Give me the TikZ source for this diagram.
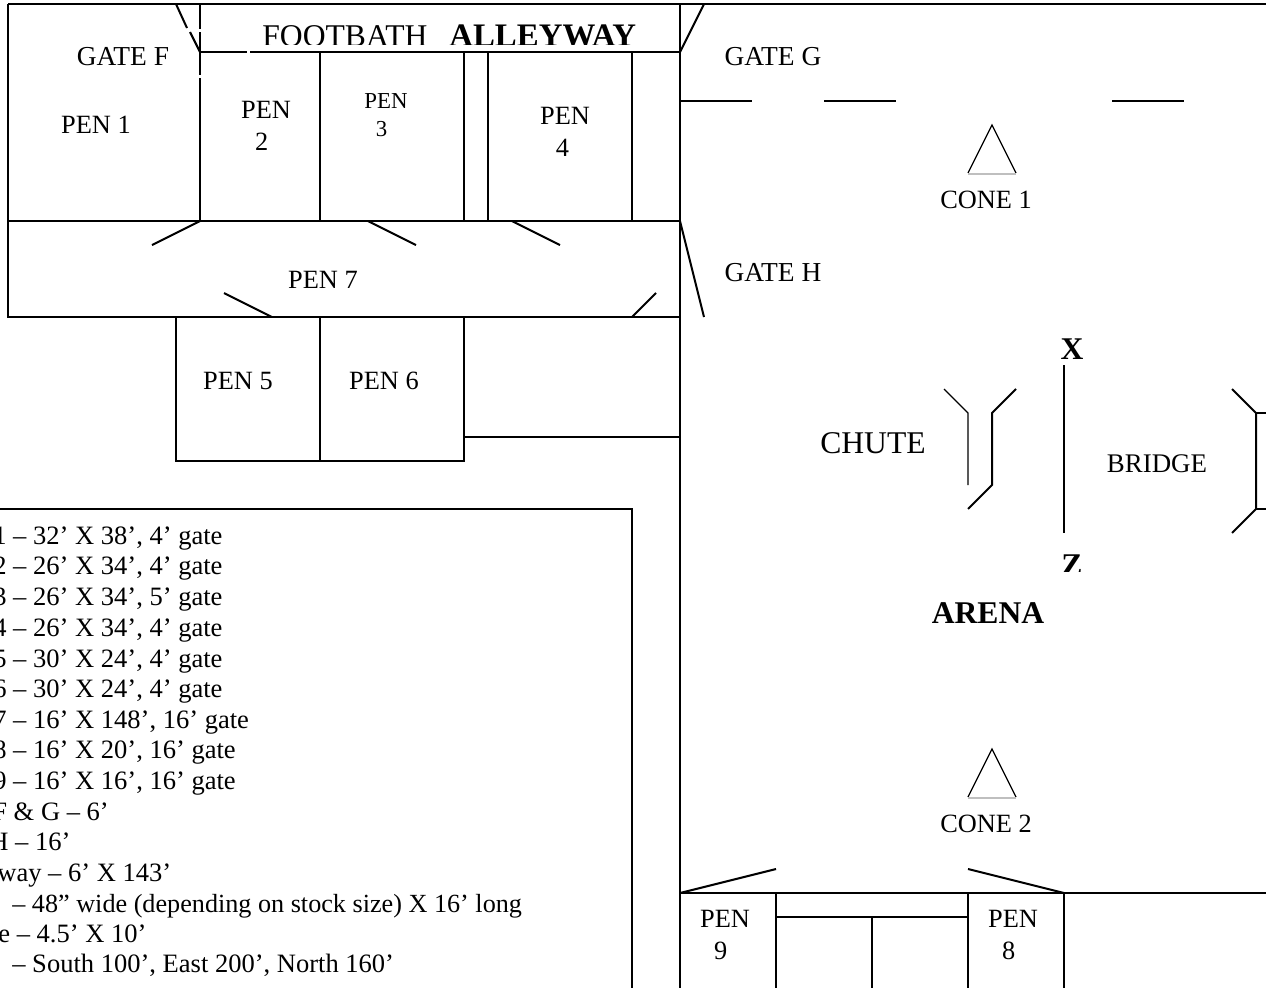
\documentclass[tikz,border=0pt]{standalone}
\usepackage{fontspec}
\setmainfont{Liberation Serif}
\usepackage{tikz}
\tikzset{
  wall/.style={draw, line width=1.15pt},
  thin wall/.style={draw, line width=0.7pt},
  lbl/.style={inner sep=0pt, font=\fontsize{15}{18}\selectfont, align=center},
  gate lbl/.style={inner sep=0pt, font=\fontsize{15.6}{18}\selectfont},
  small lbl/.style={inner sep=0pt, font=\fontsize{13}{16}\selectfont, align=center},
  big lbl/.style={inner sep=0pt, font=\fontsize{18}{20}\selectfont},
  big bold/.style={inner sep=0pt, font=\fontsize{18}{20}\selectfont\bfseries},
  legend/.style={inner sep=0pt, anchor=base west, font=\fontsize{15.1}{18}\selectfont}
}
\begin{document}
\begin{tikzpicture}[x=0.02cm, y=-0.02cm]
\useasboundingbox (0,0) rectangle (1266,988);
\path [wall] (8,4) -- (1266,4);
\path [wall] (8,4) -- (8,317) -- (680,317);
\path [wall] (680,4) -- (680,988);
\path [wall] (200,4) -- (200,29) (200,32) -- (200,75) (200,78) -- (200,221);
\path [wall] (200,52) -- (247,52) (250,52) -- (680,52);
\path [wall] (176,4) -- (187,28) (190,32) -- (200,52);
\path [wall] (680,52) -- (704,4);
\path [wall] (320,52) -- (320,221);
\path [wall] (464,52) -- (464,221);
\path [wall] (488,52) -- (488,221);
\path [wall] (632,52) -- (632,221);
\path [wall] (8,221) -- (680,221);
\path [wall] (152,245) -- (200,221);
\path [wall] (368,221) -- (416,245);
\path [wall] (512,221) -- (560,245);
\path [wall] (224,293) -- (272,317);
\path [wall] (632,317) -- (656,293);
\path [wall] (680,221) -- (704,317);
\path [wall] (176,317) -- (176,461) -- (464,461) -- (464,317);
\path [wall] (320,317) -- (320,461);
\path [wall] (464,437) -- (680,437);
\path [wall] (0,509) -- (632,509) -- (632,988);
\path [wall] (680,101) -- (752,101);
\path [wall] (824,101) -- (896,101);
\path [wall] (1112,101) -- (1184,101);
\path [thin wall] (968,173) -- (992,125) -- (1016,173);
\path [draw, black!25, line width=0.6pt] (968,174) -- (1016,174);
\path [thin wall] (968,797) -- (992,749) -- (1016,797);
\path [draw, black!25, line width=0.6pt] (968,798) -- (1016,798);
\path [thin wall] (944,389) -- (968,413) -- (968,485);
\path [wall] (1016,389) -- (992,413) -- (992,485) -- (968,509);
\path [wall] (1064,365) -- (1064,533);
\path [wall] (1232,389) -- (1256,413) -- (1256,509) -- (1232,533);
\path [wall] (1256,413) -- (1266,413);
\path [wall] (1256,509) -- (1266,509);
\path [wall] (680,893) -- (1266,893);
\path [wall] (680,893) -- (776,869);
\path [wall] (968,869) -- (1064,893);
\path [wall] (776,893) -- (776,988);
\path [wall] (968,893) -- (968,988);
\path [wall] (1064,893) -- (1064,988);
\path [wall] (776,917) -- (968,917);
\path [wall] (872,917) -- (872,988);
\begin{scope}
\clip (240,10) rectangle (660,44);
\node [big lbl, anchor=base west] (footbath) at (262,46) {FOOTBATH};
\node [big bold, anchor=base west, font=\fontsize{18.7}{20}\selectfont\bfseries] (alleyway) at (449,46) {ALLEYWAY};
\end{scope}
\begin{scope}
\clip (1040,540) rectangle (1100,571);
\node [big bold] (z) at (1072,565) {Z};
\end{scope}
\node [gate lbl] (gatef) at (123,56.7) {GATE F};
\node [lbl] (pen1) at (96,125) {PEN 1};
\node [lbl] (pen2) at (266,126) {PEN\\2\hspace*{5pt}};
\node [small lbl] (pen3) at (386,115) {PEN\\3\hspace*{5pt}};
\node [lbl] (pen4) at (565,132) {PEN\\4\hspace*{3pt}};
\node [gate lbl] (gateg) at (773,56.7) {GATE G};
\node [gate lbl] (gateh) at (773,272.7) {GATE H};
\node [lbl] (pen7) at (323,280) {PEN 7};
\node [lbl] (pen5) at (238,381) {PEN 5};
\node [lbl] (pen6) at (384,381) {PEN 6};
\node [lbl] (cone1) at (986,200) {CONE 1};
\node [lbl] (cone2) at (986,824) {CONE 2};
\node [lbl, font=\fontsize{15.3}{18}\selectfont] (bridge) at (1157,464) {BRIDGE};
\node [lbl] (pen9) at (725,935) {PEN\\9\hspace*{5pt}};
\node [lbl] (pen8) at (1013,935) {PEN\\8\hspace*{5pt}};
\node [big lbl] (chute) at (873,443) {CHUTE};
\node [big bold] (x) at (1072,349) {X};
\node [big bold] (arena) at (988,613) {ARENA};
\node [legend] (l1) at (-7,544) {1 – 32’ X 38’, 4’ gate};
\node [legend] (l2) at (-7,574) {2 – 26’ X 34’, 4’ gate};
\node [legend] (l3) at (-7,605) {3 – 26’ X 34’, 5’ gate};
\node [legend] (l4) at (-7,636) {4 – 26’ X 34’, 4’ gate};
\node [legend] (l5) at (-7,667) {5 – 30’ X 24’, 4’ gate};
\node [legend] (l6) at (-7,697) {6 – 30’ X 24’, 4’ gate};
\node [legend] (l7) at (-7,728) {7 – 16’ X 148’, 16’ gate};
\node [legend] (l8) at (-7,758) {8 – 16’ X 20’, 16’ gate};
\node [legend] (l9) at (-7,789) {9 – 16’ X 16’, 16’ gate};
\node [legend] (l10) at (-8,820) {F \& G – 6’};
\node [legend] (l11) at (-11,850) {H – 16’};
\node [legend] (l12) at (-3,881) {way – 6’ X 143’};
\node [legend, font=\fontsize{14.9}{18}\selectfont] (l13) at (12,912) {– 48” wide (depending on stock size) X 16’ long};
\node [legend] (l14) at (-2,942) {e – 4.5’ X 10’};
\node [legend] (l15) at (12,972) {– South 100’, East 200’, North 160’};
\end{tikzpicture}
\end{document}
